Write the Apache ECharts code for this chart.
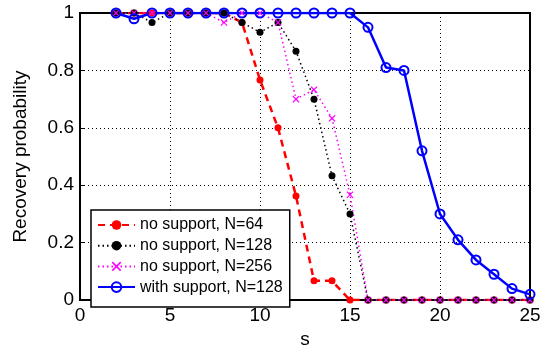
<!DOCTYPE html>
<html>
<head>
<meta charset="utf-8">
<script src="https://cdn.jsdelivr.net/npm/echarts@6/dist/echarts.min.js"></script>
<style>
html,body{margin:0;padding:0;background:#fff;}
#chart{width:548px;height:354px;}
</style>
</head>
<body>
<div id="chart"></div>
<script>
const sValues = [2,3,4,5,6,7,8,9,10,11,12,13,14,15,16,17,18,19,20,21,22,23,24,25];
const noSupport64  = [1,1,1,1,1,1,1,0.967,0.767,0.6,0.363,0.067,0.067,0,0,0,0,0,0,0,0,0,0,0];
const noSupport128 = [1,1,0.967,1,1,1,1,0.967,0.933,0.967,0.867,0.70,0.433,0.30,0,0,0,0,0,0,0,0,0,0];
const noSupport256 = [1,1,1,1,1,1,0.967,1,1,0.967,0.70,0.733,0.633,0.367,0,0,0,0,0,0,0,0,0,0];
const withSupport128 = [1,0.98,1,1,1,1,1,1,1,1,1,1,1,1,0.95,0.81,0.80,0.52,0.30,0.21,0.14,0.09,0.04,0.02];
const seriesNames = ['no support, N=64','no support, N=128','no support, N=256','with support, N=128'];
const xTicks = [0,5,10,15,20,25];
const yTicks = [0,0.2,0.4,0.6,0.8,1];

const pairs = vals => sValues.map((s,i)=>[s, vals[i]]);
const xMark = 'path://M0,1.2L1.2,0L5,3.8L8.8,0L10,1.2L6.2,5L10,8.8L8.8,10L5,6.2L1.2,10L0,8.8L3.8,5Z';
const FONT = 'Liberation Sans, Arial, sans-serif';

const chart = echarts.init(document.getElementById('chart'), null, {renderer:'canvas'});
chart.setOption({
  animation:false,
  backgroundColor:'#fff',
  grid:{left:80,right:18,top:13,bottom:41,show:true,borderColor:'#000',borderWidth:2,backgroundColor:'transparent'},
  xAxis:{
    type:'value', min:xTicks[0], max:xTicks[xTicks.length-1], interval:5,
    name:'s', nameLocation:'middle', nameGap:24,
    nameTextStyle:{fontFamily:FONT,fontSize:19,color:'#000'},
    axisLine:{lineStyle:{color:'#000',width:2}},
    axisTick:{inside:true,length:4,lineStyle:{color:'#000'}},
    axisLabel:{fontFamily:FONT,fontSize:19,color:'#000',margin:6,
      formatter:v=>xTicks.includes(v)?String(v):''},
    splitLine:{show:true,lineStyle:{color:'#000',type:[1,3],width:1}}
  },
  yAxis:{
    type:'value', min:yTicks[0], max:yTicks[yTicks.length-1], interval:0.2,
    name:'Recovery probability', nameLocation:'middle', nameGap:50,
    nameTextStyle:{fontFamily:FONT,fontSize:19,color:'#000'},
    axisLine:{lineStyle:{color:'#000',width:2}},
    axisTick:{inside:true,length:4,lineStyle:{color:'#000'}},
    axisLabel:{fontFamily:FONT,fontSize:19,color:'#000',margin:6,
      formatter:v=>{const r=Math.round(v*10)/10; return (r===0||r===1)?String(r):r.toFixed(1);}},
    splitLine:{show:true,lineStyle:{color:'#000',type:[1,3],width:1}}
  },
  legend:{
    orient:'vertical', left:91, top:210,
    data:seriesNames,
    backgroundColor:'#fff', borderColor:'#000', borderWidth:1.5, borderRadius:0,
    padding:[7,7,12,6], itemGap:4.7, itemWidth:37, itemHeight:12,
    textStyle:{fontFamily:FONT,fontSize:16,color:'#000',lineHeight:16}
  },
  series:[
    {name:seriesNames[0],type:'line',data:pairs(noSupport64),
     symbol:'circle',symbolSize:7,
     lineStyle:{color:'#ff0000',width:2.5,type:[7,5]},
     itemStyle:{color:'#ff0000'}},
    {name:seriesNames[1],type:'line',data:pairs(noSupport128),
     symbol:'circle',symbolSize:7,
     lineStyle:{color:'#000',width:1.5,type:[1.5,3]},
     itemStyle:{color:'#000'}},
    {name:seriesNames[2],type:'line',data:pairs(noSupport256),
     symbol:xMark,symbolSize:7,
     lineStyle:{color:'#ff00ff',width:1.5,type:[1.5,3]},
     itemStyle:{color:'#ff00ff'}},
    {name:seriesNames[3],type:'line',data:pairs(withSupport128),
     symbol:'circle',symbolSize:9,
     lineStyle:{color:'#0000ff',width:2.5},
     itemStyle:{color:'rgba(0,0,255,0)',borderColor:'#0000ff',borderWidth:2}}
  ]
});
</script>
</body>
</html>
